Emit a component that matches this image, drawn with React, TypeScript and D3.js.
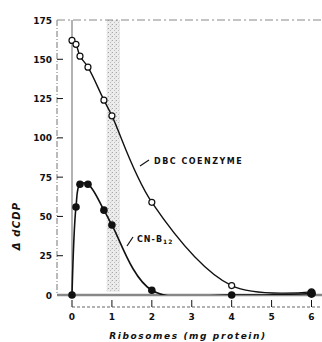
import { useEffect, useRef } from 'react'
import * as d3 from 'd3'

// ribosomes (mg protein) vs delta dCDP
const coenzymeX = [0, 0.1, 0.2, 0.4, 0.8, 1, 2, 4, 6]
const coenzymeY = [162, 159.5, 152, 145, 124, 114, 59, 6, 2]
const cnb12X = [0, 0.1, 0.2, 0.4, 0.8, 1, 2, 4, 6]
const cnb12Y = [0, 56, 70.5, 70.5, 54, 44.5, 3, 0, 1]
const xTicks = [0, 1, 2, 3, 4, 5, 6]
const yTicks = [0, 25, 50, 75, 100, 125, 150, 175]
const band = [0.87, 1.2]

const W = 322
const H = 342
const FONT = '"DejaVu Sans", sans-serif'

export default function App() {
  const svgRef = useRef<SVGSVGElement>(null)

  useEffect(() => {
    if (!svgRef.current) return
    const svg = d3.select(svgRef.current)
    svg.selectAll('*').remove()

    const x = d3.scaleLinear().domain([0, 6]).range([72, 311.5])
    const y = d3.scaleLinear().domain([0, 175]).range([295, 20])
    const ink = '#111'

    svg.append('rect').attr('width', W).attr('height', H).attr('fill', '#fff')

    // stippled band
    const defs = svg.append('defs')
    const pat = defs
      .append('pattern')
      .attr('id', 'stip')
      .attr('width', 4)
      .attr('height', 4)
      .attr('patternUnits', 'userSpaceOnUse')
    pat.append('rect').attr('width', 4).attr('height', 4).attr('fill', '#ececec')
    pat.append('rect').attr('width', 1).attr('height', 1).attr('fill', '#a8a8a8')
    pat.append('rect').attr('x', 2).attr('y', 2).attr('width', 1).attr('height', 1).attr('fill', '#bdbdbd')
    pat.append('rect').attr('x', 3).attr('y', 0.5).attr('width', 1).attr('height', 1).attr('fill', '#d0d0d0')
    svg
      .append('rect')
      .attr('x', x(band[0]))
      .attr('y', y(175))
      .attr('width', x(band[1]) - x(band[0]))
      .attr('height', y(2) - y(175))
      .attr('fill', 'url(#stip)')

    // frame
    svg.append('line')
      .attr('x1', 57).attr('x2', 57).attr('y1', y(175)).attr('y2', y(0))
      .attr('stroke', '#777').attr('stroke-width', 1).attr('stroke-dasharray', '6,2,1,2')
    svg.append('line')
      .attr('x1', 57).attr('x2', W).attr('y1', y(175)).attr('y2', y(175))
      .attr('stroke', '#888').attr('stroke-width', 1).attr('stroke-dasharray', '8,3,2,3')
    svg.append('line')
      .attr('x1', x(0)).attr('x2', x(0)).attr('y1', y(175)).attr('y2', y(0))
      .attr('stroke', '#666').attr('stroke-width', 1)
    svg.append('line')
      .attr('x1', 57).attr('x2', W).attr('y1', y(0)).attr('y2', y(0))
      .attr('stroke', '#888').attr('stroke-width', 2.5)

    // y ticks
    yTicks.forEach((t) => {
      if (t > 0 && t < 175) {
        svg.append('line')
          .attr('x1', 57).attr('x2', 63).attr('y1', y(t)).attr('y2', y(t))
          .attr('stroke', ink).attr('stroke-width', 1)
      }
      svg.append('text')
        .attr('x', 52).attr('y', y(t) + 3.5)
        .attr('text-anchor', 'end')
        .style('font-family', FONT).style('font-size', '9px').style('font-weight', 'bold')
        .attr('fill', ink)
        .text(t)
    })

    // x axis (dotted, ticks pointing up)
    svg.append('line')
      .attr('x1', x(0)).attr('x2', W).attr('y1', 307).attr('y2', 307)
      .attr('stroke', '#666').attr('stroke-width', 1).attr('stroke-dasharray', '3,2')
    xTicks.forEach((t) => {
      svg.append('line')
        .attr('x1', x(t)).attr('x2', x(t)).attr('y1', 300).attr('y2', 307)
        .attr('stroke', ink).attr('stroke-width', 1)
      svg.append('text')
        .attr('x', x(t)).attr('y', 320)
        .attr('text-anchor', 'middle')
        .style('font-family', FONT).style('font-size', '9px').style('font-weight', 'bold')
        .attr('fill', ink)
        .text(t)
    })

    svg.append('text')
      .attr('x', 188).attr('y', 339)
      .attr('text-anchor', 'middle')
      .style('font-family', FONT).style('font-size', '9px').style('font-weight', 'bold')
      .style('font-style', 'italic').style('letter-spacing', '1.6px')
      .attr('fill', ink)
      .text('Ribosomes  (mg protein)')

    svg.append('text')
      .attr('transform', `translate(20,226) rotate(-90)`)
      .attr('text-anchor', 'middle')
      .style('font-family', FONT).style('font-size', '10px').style('font-weight', 'bold')
      .style('font-style', 'italic').style('letter-spacing', '1.2px')
      .attr('fill', ink)
      .text('Δ dCDP')

    // curves (clipped at the baseline so the spline cannot dip below zero)
    defs.append('clipPath').attr('id', 'above0')
      .append('rect').attr('x', 0).attr('y', 0).attr('width', W).attr('height', y(0))

    const line = d3
      .line<[number, number]>()
      .x((d) => x(d[0]))
      .y((d) => y(d[1]))
      .curve(d3.curveCatmullRom.alpha(0.5))

    const coPts = coenzymeX.map((v, i) => [v, coenzymeY[i]] as [number, number])
    const cnPts = cnb12X.map((v, i) => [v, cnb12Y[i]] as [number, number])

    svg.append('path').attr('d', line(coPts)).attr('fill', 'none').attr('stroke', ink).attr('stroke-width', 1.4)
    svg.append('path').attr('d', line(cnPts)).attr('fill', 'none').attr('stroke', ink).attr('stroke-width', 1.6)
      .attr('clip-path', 'url(#above0)')

    svg.selectAll('.open')
      .data(coPts)
      .enter()
      .append('circle')
      .attr('cx', (d) => x(d[0]))
      .attr('cy', (d) => y(d[1]))
      .attr('r', 3)
      .attr('fill', '#fff')
      .attr('stroke', ink)
      .attr('stroke-width', 1.2)

    svg.selectAll('.filled')
      .data(cnPts)
      .enter()
      .append('circle')
      .attr('cx', (d) => x(d[0]))
      .attr('cy', (d) => y(d[1]))
      .attr('r', (d) => (d[0] === 6 ? 4.5 : 3.8))
      .attr('fill', ink)

    // labels
    svg.append('line')
      .attr('x1', 140).attr('y1', 166).attr('x2', 149).attr('y2', 160)
      .attr('stroke', ink).attr('stroke-width', 1.2)
    svg.append('text')
      .attr('x', 154).attr('y', 164)
      .style('font-family', FONT).style('font-size', '8px').style('font-weight', 'bold')
      .style('letter-spacing', '1.5px')
      .attr('fill', ink)
      .text('DBC  COENZYME')

    svg.append('line')
      .attr('x1', 127).attr('y1', 246).attr('x2', 133).attr('y2', 237)
      .attr('stroke', ink).attr('stroke-width', 1.2)
    const cn = svg.append('text')
      .attr('x', 137).attr('y', 242)
      .style('font-family', FONT).style('font-size', '8px').style('font-weight', 'bold')
      .style('letter-spacing', '1px')
      .attr('fill', ink)
    cn.append('tspan').text('CN-B')
    cn.append('tspan').attr('dy', 2).style('font-size', '6px').text('12')
  }, [])

  return (
    <svg
      ref={svgRef}
      width={W}
      height={H}
      style={{ position: 'absolute', left: 0, top: 0 }}
    />
  )
}
